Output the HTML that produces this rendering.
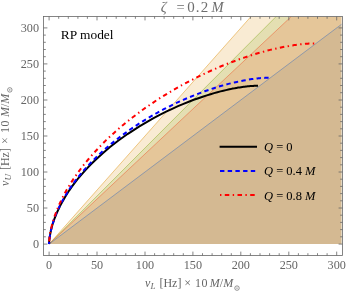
<!DOCTYPE html>
<html><head><meta charset="utf-8"><title>plot</title>
<style>html,body{margin:0;padding:0;background:#fff;}body{width:347px;height:294px;overflow:hidden;position:relative;font-family:"Liberation Serif",serif;}</style>
</head><body>
<svg width="347" height="294" viewBox="0 0 347 294" style="position:absolute;left:0;top:0;will-change:transform">
<rect width="347" height="294" fill="#fff"/>
<defs><clipPath id="c"><rect x="43.5" y="16.5" width="299" height="239"/></clipPath></defs>
<g clip-path="url(#c)">
<path d="M49.1,244.1 L341.5,24.3 L341.5,244.1Z" fill="rgb(94,129,181)" fill-opacity="0.2"/>

<path d="M49.1,244.1 L251.0,16.5 L341.5,16.5 L341.5,244.1Z" fill="rgb(225,156,36)" fill-opacity="0.2"/>

<path d="M49.1,244.1 L276.2,16.5 L341.5,16.5 L341.5,244.1Z" fill="rgb(143,176,50)" fill-opacity="0.2"/>

<path d="M49.1,244.1 L291.3,16.5 L341.5,16.5 L341.5,244.1Z" fill="rgb(235,98,53)" fill-opacity="0.2"/>

<path d="M49.1,244.1 L251.0,16.5" stroke="rgb(225,156,36)" stroke-opacity="0.75" stroke-width="0.7" fill="none"/>

<path d="M49.1,244.1 L276.2,16.5" stroke="rgb(143,176,50)" stroke-opacity="0.75" stroke-width="0.7" fill="none"/>

<path d="M49.1,244.1 L291.3,16.5" stroke="rgb(235,98,53)" stroke-opacity="0.75" stroke-width="0.7" fill="none"/>

<path d="M49.1,244.1 L341.5,24.3" stroke="rgb(94,129,181)" stroke-opacity="0.6" stroke-width="1" fill="none"/>

<path d="M258.0,85.7 257.9,85.7 257.8,85.7 257.6,85.7 257.4,85.7 257.3,85.7 257.1,85.7 256.9,85.7 256.7,85.7 256.5,85.7 256.2,85.7 255.9,85.7 255.7,85.7 255.4,85.8 255.0,85.8 254.7,85.8 254.3,85.8 253.9,85.8 253.5,85.9 253.0,85.9 252.5,85.9 252.0,86.0 251.4,86.0 250.8,86.0 250.1,86.1 249.4,86.2 248.6,86.2 247.7,86.3 246.8,86.4 245.9,86.5 244.8,86.7 243.7,86.8 242.4,87.0 241.1,87.2 239.7,87.4 238.1,87.6 236.5,87.9 234.7,88.3 232.7,88.6 230.6,89.1 228.4,89.5 225.9,90.1 223.3,90.7 220.5,91.4 217.4,92.2 214.1,93.1 210.6,94.2 206.8,95.4 202.7,96.7 198.4,98.2 193.7,99.8 188.8,101.7 183.5,103.8 178.0,106.2 172.2,108.8 166.1,111.7 159.7,114.9 153.1,118.4 139.4,126.3 127.9,133.8 118.1,140.7 109.7,147.3 102.5,153.4 96.2,159.2 90.7,164.5 85.9,169.6 81.7,174.3 78.0,178.7 74.7,182.8 71.9,186.7 69.3,190.3 67.1,193.7 65.1,196.9 63.4,199.9 61.8,202.7 60.4,205.3 59.2,207.8 58.1,210.1 57.1,212.2 56.3,214.2 55.5,216.1 54.8,217.9 54.2,219.5 53.7,221.1 53.2,222.5 52.7,223.9 52.3,225.2 52.0,226.4 51.7,227.5 51.4,228.5 51.2,229.5 51.0,230.4 50.8,231.3 50.6,232.1 50.4,232.9 50.3,233.6 50.2,234.2 50.1,234.9 50.0,235.4 49.9,236.0 49.8,236.5 49.7,237.0 49.6,237.4 49.6,237.8 49.5,238.2 49.5,238.6 49.5,238.9 49.4,239.3 49.4,239.6 49.4,239.9 49.3,240.1 49.3,240.4 49.3,240.6 49.3,240.8 49.2,241.0 49.2,241.2 49.2,241.4 49.2,241.6 49.2,241.7 49.2,241.9 49.2,242.0 49.2,242.1 49.2,242.3 49.2,242.4 49.1,242.5 49.1,242.6 49.1,242.7 49.1,242.8 49.1,242.8 49.1,242.9 49.1,243.0 49.1,243.1 49.1,243.1 49.1,243.2 49.1,243.2 49.1,243.3 49.1,243.3 49.1,243.4 49.1,243.4 49.1,243.5 49.1,243.5 49.1,243.5 49.1,243.6 49.1,243.6 49.1,243.6 49.1,243.7 49.1,243.7 49.1,243.7 49.1,243.7 49.1,243.7 49.1,243.8 49.1,243.8 49.1,243.8 49.1,243.8 49.1,243.8 49.1,243.8 49.1,243.9 49.1,243.9 49.1,243.9 49.1,243.9 49.1,243.9 49.1,243.9 49.1,243.9 49.1,243.9 49.1,243.9 49.1,243.9 49.1,243.9 49.1,244.0 49.1,244.0 49.1,244.0 49.1,244.0 49.1,244.0 49.1,244.0 49.1,244.0 49.1,244.0 49.1,244.0 49.1,244.0 49.1,244.0 49.1,244.0 49.1,244.0 49.1,244.0 49.1,244.0 49.1,244.0 49.1,244.0 49.1,244.0 49.1,244.0 49.1,244.0 49.1,244.0 49.1,244.0 49.1,244.0 49.1,244.0 49.1,244.0 49.1,244.0 49.1,244.0 49.1,244.0 49.1,244.0 49.1,244.0" stroke="#000" stroke-width="2" fill="none"/>
<path d="M268.6,77.7 268.5,77.7 268.4,77.7 268.2,77.7 268.0,77.7 267.9,77.7 267.7,77.7 267.5,77.7 267.3,77.7 267.1,77.8 266.8,77.8 266.6,77.8 266.3,77.8 266.0,77.8 265.7,77.8 265.3,77.8 264.9,77.8 264.5,77.9 264.1,77.9 263.6,77.9 263.1,77.9 262.6,78.0 262.0,78.0 261.4,78.1 260.8,78.1 260.0,78.2 259.3,78.3 258.4,78.3 257.5,78.4 256.6,78.5 255.5,78.7 254.4,78.8 253.2,79.0 251.9,79.1 250.5,79.3 248.9,79.6 247.3,79.9 245.5,80.2 243.6,80.5 241.5,80.9 239.3,81.4 236.9,81.9 234.3,82.5 231.4,83.2 228.4,83.9 225.1,84.8 221.6,85.8 217.9,86.9 213.8,88.2 209.5,89.6 204.8,91.2 199.9,93.1 194.6,95.1 189.1,97.4 183.2,99.9 177.0,102.7 170.5,105.8 163.8,109.2 156.8,113.0 142.7,121.3 130.9,129.0 120.8,136.3 112.1,143.1 104.6,149.5 98.1,155.5 92.4,161.1 87.4,166.3 83.0,171.3 79.2,175.9 75.8,180.2 72.8,184.2 70.2,188.0 67.8,191.6 65.8,194.9 63.9,198.0 62.3,200.9 60.9,203.7 59.6,206.2 58.5,208.6 57.4,210.9 56.5,213.0 55.7,215.0 55.0,216.8 54.4,218.5 53.8,220.2 53.3,221.7 52.9,223.1 52.5,224.4 52.1,225.7 51.8,226.8 51.5,227.9 51.3,229.0 51.0,229.9 50.8,230.8 50.6,231.7 50.5,232.4 50.3,233.2 50.2,233.9 50.1,234.5 50.0,235.1 49.9,235.7 49.8,236.2 49.7,236.7 49.7,237.2 49.6,237.6 49.6,238.0 49.5,238.4 49.5,238.8 49.4,239.1 49.4,239.4 49.4,239.7 49.3,240.0 49.3,240.3 49.3,240.5 49.3,240.7 49.2,240.9 49.2,241.1 49.2,241.3 49.2,241.5 49.2,241.7 49.2,241.8 49.2,241.9 49.2,242.1 49.2,242.2 49.2,242.3 49.1,242.4 49.1,242.5 49.1,242.6 49.1,242.7 49.1,242.8 49.1,242.9 49.1,243.0 49.1,243.0 49.1,243.1 49.1,243.2 49.1,243.2 49.1,243.3 49.1,243.3 49.1,243.4 49.1,243.4 49.1,243.4 49.1,243.5 49.1,243.5 49.1,243.6 49.1,243.6 49.1,243.6 49.1,243.6 49.1,243.7 49.1,243.7 49.1,243.7 49.1,243.7 49.1,243.8 49.1,243.8 49.1,243.8 49.1,243.8 49.1,243.8 49.1,243.8 49.1,243.9 49.1,243.9 49.1,243.9 49.1,243.9 49.1,243.9 49.1,243.9 49.1,243.9 49.1,243.9 49.1,243.9 49.1,243.9 49.1,243.9 49.1,244.0 49.1,244.0 49.1,244.0 49.1,244.0 49.1,244.0 49.1,244.0 49.1,244.0 49.1,244.0 49.1,244.0 49.1,244.0 49.1,244.0 49.1,244.0 49.1,244.0 49.1,244.0 49.1,244.0 49.1,244.0 49.1,244.0 49.1,244.0 49.1,244.0 49.1,244.0 49.1,244.0 49.1,244.0 49.1,244.0 49.1,244.0 49.1,244.0 49.1,244.0 49.1,244.0 49.1,244.0 49.1,244.0 49.1,244.0" stroke="#0000ff" stroke-width="2" fill="none" stroke-dasharray="4.4,3.3"/>
<path d="M314.2,43.4 314.1,43.4 314.0,43.4 313.8,43.4 313.6,43.4 313.5,43.4 313.3,43.4 313.1,43.4 312.9,43.4 312.6,43.4 312.4,43.5 312.1,43.5 311.8,43.5 311.5,43.5 311.2,43.5 310.8,43.5 310.5,43.5 310.1,43.5 309.6,43.6 309.2,43.6 308.7,43.6 308.1,43.7 307.5,43.7 306.9,43.7 306.2,43.8 305.5,43.8 304.7,43.9 303.9,44.0 303.0,44.1 302.0,44.2 300.9,44.3 299.8,44.4 298.6,44.5 297.2,44.7 295.8,44.9 294.3,45.1 292.6,45.4 290.8,45.6 288.9,46.0 286.8,46.3 284.5,46.7 282.1,47.2 279.4,47.8 276.6,48.4 273.5,49.1 270.2,49.9 266.6,50.8 262.8,51.9 258.6,53.0 254.1,54.4 249.3,55.9 244.2,57.6 238.7,59.5 232.8,61.7 226.6,64.1 219.9,66.8 212.9,69.8 205.5,73.2 197.8,76.9 189.7,81.0 181.4,85.4 172.7,90.3 157.1,99.9 143.8,109.0 132.4,117.5 122.5,125.4 114.0,132.9 106.4,139.9 99.9,146.5 94.1,152.7 89.0,158.5 84.5,163.9 80.6,169.0 77.1,173.8 74.0,178.2 71.2,182.4 68.8,186.4 66.6,190.0 64.7,193.5 63.0,196.7 61.5,199.8 60.1,202.6 58.9,205.2 57.9,207.7 56.9,210.1 56.1,212.2 55.3,214.3 54.6,216.2 54.0,218.0 53.5,219.7 53.0,221.2 52.6,222.7 52.2,224.1 51.9,225.4 51.6,226.6 51.3,227.7 51.1,228.8 50.9,229.7 50.7,230.7 50.5,231.5 50.4,232.3 50.2,233.1 50.1,233.8 50.0,234.5 49.9,235.1 49.8,235.7 49.7,236.2 49.7,236.7 49.6,237.2 49.6,237.6 49.5,238.1 49.5,238.4 49.4,238.8 49.4,239.1 49.4,239.5 49.3,239.8 49.3,240.0 49.3,240.3 49.3,240.5 49.2,240.8 49.2,241.0 49.2,241.2 49.2,241.4 49.2,241.5 49.2,241.7 49.2,241.9 49.2,242.0 49.2,242.1 49.2,242.3 49.1,242.4 49.1,242.5 49.1,242.6 49.1,242.7 49.1,242.8 49.1,242.9 49.1,242.9 49.1,243.0 49.1,243.1 49.1,243.1 49.1,243.2 49.1,243.2 49.1,243.3 49.1,243.4 49.1,243.4 49.1,243.4 49.1,243.5 49.1,243.5 49.1,243.5 49.1,243.6 49.1,243.6 49.1,243.6 49.1,243.7 49.1,243.7 49.1,243.7 49.1,243.7 49.1,243.8 49.1,243.8 49.1,243.8 49.1,243.8 49.1,243.8 49.1,243.8 49.1,243.9 49.1,243.9 49.1,243.9 49.1,243.9 49.1,243.9 49.1,243.9 49.1,243.9 49.1,243.9 49.1,243.9 49.1,243.9 49.1,244.0 49.1,244.0 49.1,244.0 49.1,244.0 49.1,244.0 49.1,244.0 49.1,244.0 49.1,244.0 49.1,244.0 49.1,244.0 49.1,244.0 49.1,244.0 49.1,244.0 49.1,244.0 49.1,244.0 49.1,244.0 49.1,244.0 49.1,244.0 49.1,244.0 49.1,244.0 49.1,244.0 49.1,244.0 49.1,244.0 49.1,244.0 49.1,244.0 49.1,244.0 49.1,244.0 49.1,244.0 49.1,244.0 49.1,244.0" stroke="#ff0000" stroke-width="2" fill="none" stroke-dasharray="1.4,3.4,4.5,3.4"/>
</g>
<rect x="43.5" y="16.5" width="299" height="239" fill="none" stroke="#666" stroke-width="0.8"/>
<path d="M49.1,255.5v-3.9M49.1,16.5v3.9M43.5,244.1h3.9M342.5,244.1h-3.9M58.7,255.5v-2.3M58.7,16.5v2.3M43.5,236.8h2.3M342.5,236.8h-2.3M68.3,255.5v-2.3M68.3,16.5v2.3M43.5,229.6h2.3M342.5,229.6h-2.3M77.9,255.5v-2.3M77.9,16.5v2.3M43.5,222.4h2.3M342.5,222.4h-2.3M87.4,255.5v-2.3M87.4,16.5v2.3M43.5,215.2h2.3M342.5,215.2h-2.3M97.0,255.5v-3.9M97.0,16.5v3.9M43.5,208.0h3.9M342.5,208.0h-3.9M106.6,255.5v-2.3M106.6,16.5v2.3M43.5,200.8h2.3M342.5,200.8h-2.3M116.2,255.5v-2.3M116.2,16.5v2.3M43.5,193.6h2.3M342.5,193.6h-2.3M125.8,255.5v-2.3M125.8,16.5v2.3M43.5,186.4h2.3M342.5,186.4h-2.3M135.4,255.5v-2.3M135.4,16.5v2.3M43.5,179.2h2.3M342.5,179.2h-2.3M145.0,255.5v-3.9M145.0,16.5v3.9M43.5,172.0h3.9M342.5,172.0h-3.9M154.6,255.5v-2.3M154.6,16.5v2.3M43.5,164.8h2.3M342.5,164.8h-2.3M164.1,255.5v-2.3M164.1,16.5v2.3M43.5,157.6h2.3M342.5,157.6h-2.3M173.7,255.5v-2.3M173.7,16.5v2.3M43.5,150.4h2.3M342.5,150.4h-2.3M183.3,255.5v-2.3M183.3,16.5v2.3M43.5,143.2h2.3M342.5,143.2h-2.3M192.9,255.5v-3.9M192.9,16.5v3.9M43.5,136.0h3.9M342.5,136.0h-3.9M202.5,255.5v-2.3M202.5,16.5v2.3M43.5,128.8h2.3M342.5,128.8h-2.3M212.1,255.5v-2.3M212.1,16.5v2.3M43.5,121.6h2.3M342.5,121.6h-2.3M221.7,255.5v-2.3M221.7,16.5v2.3M43.5,114.4h2.3M342.5,114.4h-2.3M231.3,255.5v-2.3M231.3,16.5v2.3M43.5,107.2h2.3M342.5,107.2h-2.3M240.8,255.5v-3.9M240.8,16.5v3.9M43.5,100.0h3.9M342.5,100.0h-3.9M250.4,255.5v-2.3M250.4,16.5v2.3M43.5,92.7h2.3M342.5,92.7h-2.3M260.0,255.5v-2.3M260.0,16.5v2.3M43.5,85.5h2.3M342.5,85.5h-2.3M269.6,255.5v-2.3M269.6,16.5v2.3M43.5,78.3h2.3M342.5,78.3h-2.3M279.2,255.5v-2.3M279.2,16.5v2.3M43.5,71.1h2.3M342.5,71.1h-2.3M288.8,255.5v-3.9M288.8,16.5v3.9M43.5,63.9h3.9M342.5,63.9h-3.9M298.4,255.5v-2.3M298.4,16.5v2.3M43.5,56.7h2.3M342.5,56.7h-2.3M307.9,255.5v-2.3M307.9,16.5v2.3M43.5,49.5h2.3M342.5,49.5h-2.3M317.5,255.5v-2.3M317.5,16.5v2.3M43.5,42.3h2.3M342.5,42.3h-2.3M327.1,255.5v-2.3M327.1,16.5v2.3M43.5,35.1h2.3M342.5,35.1h-2.3M336.7,255.5v-3.9M336.7,16.5v3.9M43.5,27.9h3.9M342.5,27.9h-3.9" stroke="#666" stroke-width="0.8" fill="none"/>
<path d="M219.6,146.8H257" stroke="#000" stroke-width="2"/>
<path d="M220,170.9H256.7" stroke="#0000ff" stroke-width="2" stroke-dasharray="4.4,3.3"/>
<path d="M220,195H256.7" stroke="#ff0000" stroke-width="2" stroke-dasharray="1.4,3.4,4.5,3.4"/>
<g style="font-family:'Liberation Serif',serif;" opacity="0.999"><text x="49.1" y="268.9" text-anchor="middle" font-size="12.2" fill="#666">0</text>
<text x="39" y="248.2" text-anchor="end" font-size="12.2" fill="#666">0</text>
<text x="97.0" y="268.9" text-anchor="middle" font-size="12.2" fill="#666">50</text>
<text x="39" y="212.2" text-anchor="end" font-size="12.2" fill="#666">50</text>
<text x="145.0" y="268.9" text-anchor="middle" font-size="12.2" fill="#666">100</text>
<text x="39" y="176.2" text-anchor="end" font-size="12.2" fill="#666">100</text>
<text x="192.9" y="268.9" text-anchor="middle" font-size="12.2" fill="#666">150</text>
<text x="39" y="140.2" text-anchor="end" font-size="12.2" fill="#666">150</text>
<text x="240.8" y="268.9" text-anchor="middle" font-size="12.2" fill="#666">200</text>
<text x="39" y="104.2" text-anchor="end" font-size="12.2" fill="#666">200</text>
<text x="288.8" y="268.9" text-anchor="middle" font-size="12.2" fill="#666">250</text>
<text x="39" y="68.1" text-anchor="end" font-size="12.2" fill="#666">250</text>
<text x="336.7" y="268.9" text-anchor="middle" font-size="12.2" fill="#666">300</text>
<text x="39" y="32.1" text-anchor="end" font-size="12.2" fill="#666">300</text>
<text y="11.6" font-size="14.5" fill="#6e6e6e"><tspan x="160.8" font-style="italic">ζ</tspan><tspan x="176.4">=</tspan><tspan x="187.2" font-size="15" letter-spacing="1.1">0.2</tspan><tspan x="211.5" font-style="italic">M</tspan></text>
<g transform="translate(193,286.5)"><text font-size="12" fill="#666"><tspan x="-48.0" y="0" font-style="italic">ν</tspan><tspan x="-42.6" y="2.2" font-style="italic" font-size="9">L</tspan><tspan x="-33.6" y="0">[Hz]</tspan><tspan x="-8.8" y="0">×</tspan><tspan x="2.0" y="0" letter-spacing="0.6">10</tspan><tspan x="16.8" y="0" font-style="italic">M</tspan>/<tspan font-style="italic">M</tspan></text><circle cx="44.0" cy="1.6" r="2.25" fill="none" stroke="#666" stroke-width="0.7"/><circle cx="44.0" cy="1.6" r="0.65" fill="#666"/></g>
<g transform="translate(9.0,136.5) rotate(-90)"><text font-size="12" fill="#666"><tspan x="-49.5" y="0" font-style="italic">ν</tspan><tspan x="-44.1" y="2.2" font-style="italic" font-size="9">U</tspan><tspan x="-33.6" y="0">[Hz]</tspan><tspan x="-7.4" y="0">×</tspan><tspan x="3.4" y="0" letter-spacing="0.6">10</tspan><tspan x="19.4" y="0" font-style="italic">M</tspan>/<tspan font-style="italic">M</tspan></text><circle cx="46.6" cy="0.8" r="2.25" fill="none" stroke="#666" stroke-width="0.7"/><circle cx="46.6" cy="0.8" r="0.65" fill="#666"/></g>
<text x="60.8" y="38.8" font-size="13.4" fill="#000">RP model</text>
<text x="264" y="151" font-size="12.5" fill="#000"><tspan font-style="italic">Q</tspan> = 0</text>
<text x="264" y="175" font-size="12.5" fill="#000"><tspan font-style="italic">Q</tspan> = 0.4 <tspan font-style="italic">M</tspan></text>
<text x="264" y="199.5" font-size="12.5" fill="#000"><tspan font-style="italic">Q</tspan> = 0.8 <tspan font-style="italic">M</tspan></text></g>
</svg>
</body></html>
